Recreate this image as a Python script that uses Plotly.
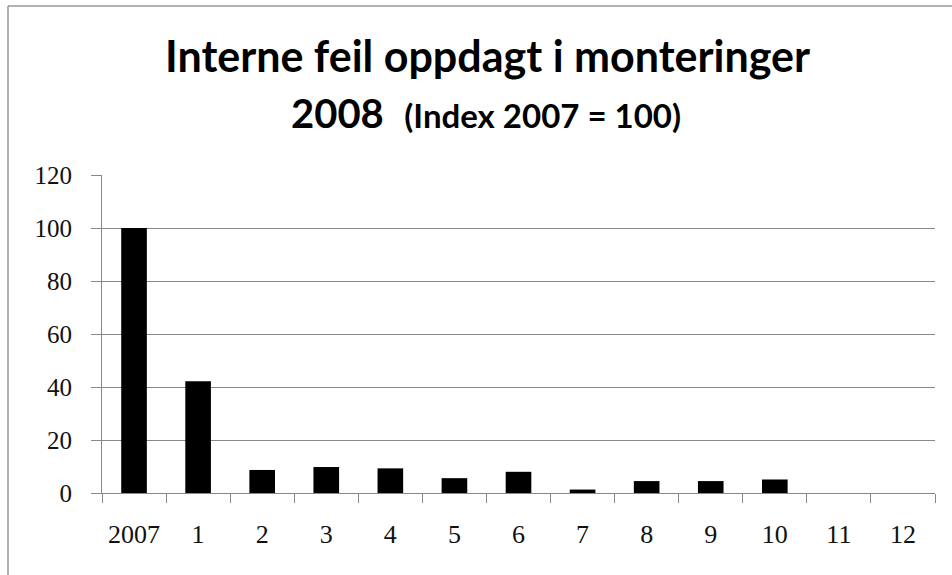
import plotly.graph_objects as go

categories = ["2007", "1", "2", "3", "4", "5", "6", "7", "8", "9", "10", "11", "12"]
values = [100, 42.2, 8.7, 9.8, 9.3, 5.6, 8.0, 1.3, 4.5, 4.5, 5.1, 0, 0]
y_ticks = [0, 20, 40, 60, 80, 100, 120]

W, H = 952, 575
L, R, T, B = 102, 17, 175, 82
pw, ph = W - L - R, H - T - B

def px(x):
    return (x - L) / pw

def py(y):
    return (H - B - y) / ph

fig = go.Figure(go.Bar(x=categories, y=values, marker=dict(color="black", line=dict(width=0)), width=0.4))

fig.update_layout(
    width=W, height=H,
    margin=dict(l=L, r=R, t=T, b=B),
    paper_bgcolor="white", plot_bgcolor="white",
    showlegend=False,
    font=dict(family="Liberation Serif", size=25, color="black"),
)
fig.update_xaxes(
    type="category", tickson="boundaries", ticks="outside", ticklen=9, tickcolor="#888",
    showline=True, linecolor="#888", linewidth=1, showgrid=False,
    tickfont=dict(family="Liberation Serif", size=26, color="#111"),
    ticklabelstandoff=18,
)
fig.update_yaxes(
    range=[0, 120], tickvals=y_ticks, ticks="outside", ticklen=10, tickcolor="#888",
    showline=True, linecolor="#888", linewidth=1,
    showgrid=True, gridcolor="#888", gridwidth=1, zeroline=False,
    tickfont=dict(family="Liberation Serif", size=25, color="#111"),
    ticklabelstandoff=14,
)

fig.add_annotation(
    text="<b>Interne feil oppdagt i monteringer</b>", xref="paper", yref="paper",
    x=px(487), y=py(55), showarrow=False, xanchor="center", yanchor="middle",
    font=dict(family="Lato", size=43, color="black"),
)
fig.add_annotation(
    text="<b>2008</b>  <b><span style='font-size:33px'>(Index 2007 = 100)</span></b>", xref="paper", yref="paper",
    x=px(486), y=py(113), showarrow=False, xanchor="center", yanchor="middle",
    font=dict(family="Lato", size=40, color="black"),
)
fig.add_shape(
    type="line", xref="paper", yref="paper",
    x0=px(8), x1=px(8), y0=py(575), y1=py(6),
    line=dict(color="#999", width=1.5),
)
fig.add_shape(
    type="line", xref="paper", yref="paper",
    x0=px(8), x1=px(952), y0=py(6), y1=py(6),
    line=dict(color="#999", width=1.5),
)

fig.write_html("out.html", config={"displayModeBar": False},
               post_script="document.body.style.margin='0';")
